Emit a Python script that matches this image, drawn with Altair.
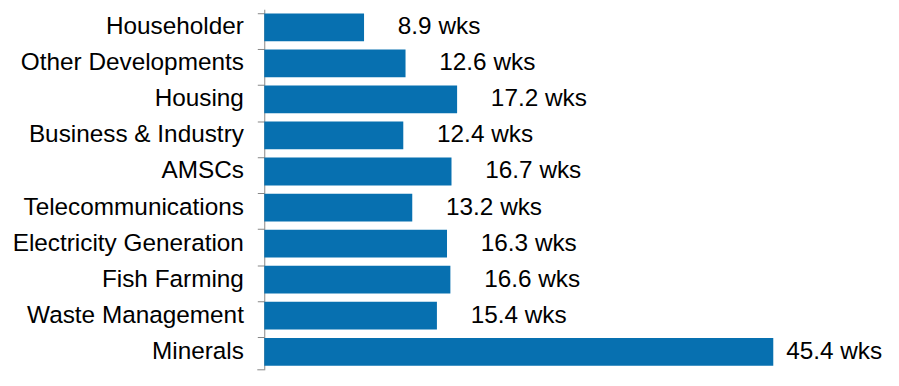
import altair as alt
import pandas as pd

categories = ["Householder", "Other Developments", "Housing", "Business & Industry", "AMSCs",
              "Telecommunications", "Electricity Generation", "Fish Farming", "Waste Management", "Minerals"]
weeks = [8.9, 12.6, 17.2, 12.4, 16.7, 13.2, 16.3, 16.6, 15.4, 45.4]

df = pd.DataFrame({"category": categories, "value": weeks})

BAR = "#0770B0"
GRAY = "#868686"
FONT = "Liberation Sans"
FS = 24.5

y_enc = alt.Y("category:N", sort=None,
              scale=alt.Scale(paddingInner=0.23, paddingOuter=0.115),
              axis=alt.Axis(title=None, labelFont=FONT, labelFontSize=FS, labelColor="#000000",
                            labelPadding=14, labelLimit=400, tickSize=7, tickColor=GRAY,
                            domainColor=GRAY, bandPosition=0, offset=0,
                            ticks=True, grid=False))
x_enc = alt.X("value:Q", scale=alt.Scale(domain=[0, 55.9], nice=False, zero=True), axis=None)

base = alt.Chart(df)

bars = base.mark_bar(color=BAR).encode(x=x_enc, y=y_enc)

text_common = dict(align="left", baseline="middle", font=FONT, fontSize=FS, color="#000000")
labels_small = base.transform_filter("datum.value < 40").transform_calculate(
    label="format(datum.value, '.1f') + ' wks'"
).mark_text(dx=34, **text_common).encode(x=x_enc, y=alt.Y("category:N", sort=None), text="label:N")

labels_big = base.transform_filter("datum.value >= 40").transform_calculate(
    label="format(datum.value, '.1f') + ' wks'"
).mark_text(dx=13, **text_common).encode(x=x_enc, y=alt.Y("category:N", sort=None), text="label:N")

bottom_tick = alt.Chart(pd.DataFrame({"a": [0]})).mark_rule(color=GRAY, strokeWidth=1).encode(
    x=alt.value(-7), x2=alt.value(0), y=alt.value(363)
)

chart = alt.layer(bars, labels_small, labels_big, bottom_tick).properties(
    width=631, height=363,
    background="#ffffff",
    autosize=alt.AutoSizeParams(type="none"),
    padding={"left": 258, "top": 0, "right": 0, "bottom": 8},
).configure_view(strokeWidth=0, stroke="transparent").configure_axis(grid=False)

chart.save("out.html", embed_options={"renderer": "svg", "actions": False})
